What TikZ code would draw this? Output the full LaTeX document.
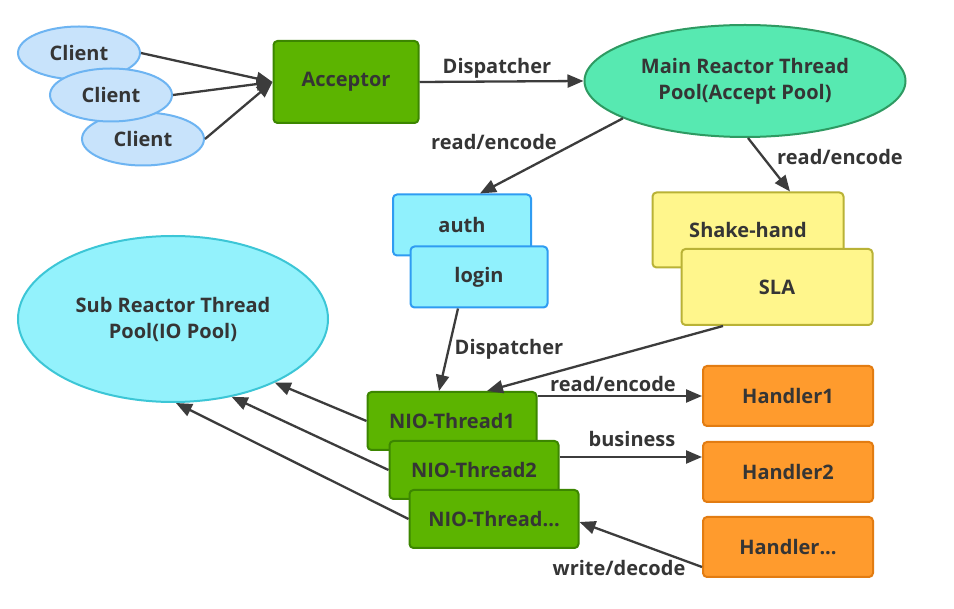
\documentclass[tikz,border=0pt]{standalone}
\usepackage{fontspec}
\setmainfont{Open Sans}
\usetikzlibrary{arrows.meta,shapes.geometric,calc}
\definecolor{txt}{HTML}{353535}
\definecolor{lne}{HTML}{3C3C3C}
\definecolor{clfill}{HTML}{C8E3FB}
\definecolor{cldraw}{HTML}{6DB4F2}
\definecolor{grfill}{HTML}{5CB400}
\definecolor{grdraw}{HTML}{3C8600}
\definecolor{mnfill}{HTML}{57E9B1}
\definecolor{mndraw}{HTML}{2E9A62}
\definecolor{cyfill}{HTML}{90F1FD}
\definecolor{cydraw}{HTML}{2F9CF2}
\definecolor{sbfill}{HTML}{93F2FC}
\definecolor{sbdraw}{HTML}{3CC6D6}
\definecolor{ylfill}{HTML}{FFF68C}
\definecolor{yldraw}{HTML}{B9B236}
\definecolor{orfill}{HTML}{FF9B2D}
\definecolor{ordraw}{HTML}{E27C12}
\tikzset{
  base/.style={font=\fontsize{20}{26}\selectfont\bfseries, text=txt, line width=2pt, inner sep=0pt, align=center},
  clientnode/.style={base, ellipse, fill=clfill, draw=cldraw, minimum width=122pt, minimum height=53pt},
  greenbox/.style={base, rectangle, rounded corners=4pt, fill=grfill, draw=grdraw},
  cyanbox/.style={base, rectangle, rounded corners=4pt, fill=cyfill, draw=cydraw, minimum width=137pt, minimum height=61pt},
  yellowbox/.style={base, rectangle, rounded corners=4pt, fill=ylfill, draw=yldraw, minimum width=191pt, minimum height=75pt},
  orangebox/.style={base, rectangle, rounded corners=4pt, fill=orfill, draw=ordraw, minimum width=170pt, minimum height=60pt},
  conn/.style={draw=lne, line width=2.3pt, -{Triangle[length=16pt,width=13pt]}},
  lbl/.style={font=\fontsize{20}{26}\selectfont\bfseries, text=txt, inner sep=0pt},
}
\begin{document}
\begin{tikzpicture}[x=1pt,y=-1pt]
\useasboundingbox[fill=white] (0,0) rectangle (954,609);
% clients
\node[clientnode] (c1) at (79,53) {Client};
\node[clientnode] (c3) at (143,139) {Client};
\node[clientnode] (c2) at (111,95) {Client};
% acceptor
\node[greenbox, minimum width=145pt, minimum height=82pt] (acc) at (346,82) {Acceptor};
% main reactor
\node[base, ellipse, fill=mnfill, draw=mndraw, minimum width=321pt, minimum height=112pt] (main) at (745,81) {Main Reactor Thread\\Pool(Accept Pool)};
% auth / login
\node[cyanbox, minimum width=138pt] (auth) at (462,225) {auth};
\node[cyanbox] (login) at (479,277) {login};
% shake-hand / SLA
\node[yellowbox] (shake) at (748,230) {Shake-hand};
\node[yellowbox, minimum height=76pt] (sla) at (777,287) {SLA};
% sub reactor
\node[base, ellipse, fill=sbfill, draw=sbdraw, minimum width=310pt, minimum height=166pt] (sub) at (173,319) {Sub Reactor Thread\\Pool(IO Pool)};
% NIO threads
\node[greenbox, minimum width=169pt, minimum height=58pt] (n1) at (452,421) {NIO-Thread1};
\node[greenbox, minimum width=169pt, minimum height=58pt] (n2) at (474,470) {NIO-Thread2};
\node[greenbox, minimum width=169pt, minimum height=58pt] (n3) at (494,519) {NIO-Thread...};
% handlers
\node[orangebox] (h1) at (788,396) {Handler1};
\node[orangebox] (h2) at (788,472) {Handler2};
\node[orangebox] (h3) at (788,547) {Handler...};

% connectors
\draw[conn] (c1.east) -- (acc.west);
\draw[conn] (c2.east) -- (acc.west);
\draw[conn] (c3.east) -- (acc.west);
\draw[conn] (acc.east) -- (main.west);
\node[lbl] (l1) at (497,68) {Dispatcher};
\draw[conn] (main.197) -- ([xshift=18pt]auth.north);
\node[lbl] (l2) at (494,142) {read/encode};
\draw[conn] ([xshift=3pt]main.south) -- ([xshift=42pt]shake.north);
\node[lbl] (l3) at (840,157) {read/encode};
\draw[conn] ([xshift=-21pt]login.south) -- ([xshift=-13pt]n1.north);
\node[lbl] (l4) at (509,349) {Dispatcher};
\draw[conn] ([xshift=-54pt]sla.south) -- ([xshift=35pt]n1.north);
\coordinate (a1) at ([yshift=25pt]n1.east);
\draw[conn] (a1) -- (a1 -| h1.west);
\node[lbl] (l5) at (613,384) {read/encode};
\coordinate (a2) at ([yshift=13pt]n2.east);
\draw[conn] (a2) -- (a2 -| h2.west);
\node[lbl] (l6) at (632,439) {business};
\draw[conn] ([yshift=-20pt]h3.west) -- ([yshift=-3pt]n3.east);
\node[lbl] (l7) at (619,568) {write/decode};
\draw[conn] (n1.west) -- (sub.328);
\draw[conn] (n2.west) -- (sub.307);
\draw[conn] (n3.west) -- (sub.272);
\end{tikzpicture}
\end{document}
